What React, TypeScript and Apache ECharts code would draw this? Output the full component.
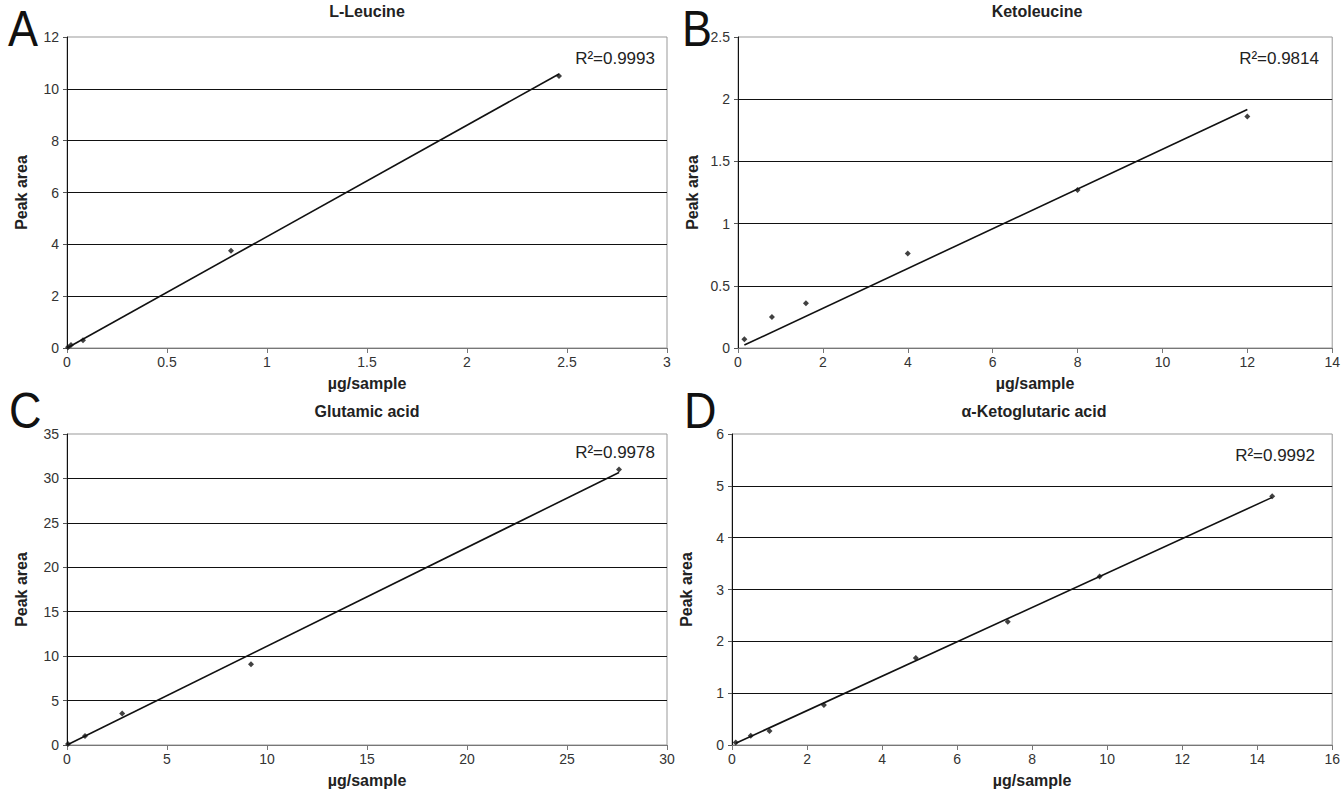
import React, { useEffect, useRef } from 'react';
import * as echarts from 'echarts';

// ---- data ----
const leucineX = [0.005, 0.02, 0.08, 0.82, 2.46];
const leucineY = [0.03, 0.12, 0.3, 3.75, 10.5];
const ketoleucineX = [0.15, 0.8, 1.6, 4, 8, 12];
const ketoleucineY = [0.07, 0.25, 0.36, 0.76, 1.27, 1.86];
const glutamicX = [0.05, 0.9, 2.76, 9.2, 27.6];
const glutamicY = [0.1, 1.0, 3.55, 9.1, 31.0];
const akgX = [0.1, 0.5, 1.0, 2.45, 4.9, 7.35, 9.8, 14.4];
const akgY = [0.05, 0.18, 0.27, 0.77, 1.68, 2.38, 3.25, 4.8];

const titles = ['L-Leucine', 'Ketoleucine', 'Glutamic acid', 'α-Ketoglutaric acid'];
const panelLetters = ['A', 'B', 'C', 'D'];
const r2Labels = ['R²=0.9993', 'R²=0.9814', 'R²=0.9978', 'R²=0.9992'];
const xMaxes = [3, 14, 30, 16];
const xIntervals = [0.5, 2, 5, 2];
const yMaxes = [12, 2.5, 35, 6];
const yIntervals = [2, 0.5, 5, 1];
const xAxisName = 'µg/sample';
const yAxisName = 'Peak area';

const panelsX = [leucineX, ketoleucineX, glutamicX, akgX];
const panelsY = [leucineY, ketoleucineY, glutamicY, akgY];

// ---- layout (pixels) ----
const grids = [
  { left: 67, top: 37, width: 600, height: 311 },
  { left: 738, top: 37, width: 598, height: 311 },
  { left: 67, top: 434, width: 600, height: 311 },
  { left: 732, top: 434, width: 604, height: 311 },
];
const titleTops = [3, 3, 403, 403];
const letterPos = [
  { x: 8, y: 29 },
  { x: 682, y: 29 },
  { x: 9, y: 411 },
  { x: 684, y: 411 },
];
const r2Pos = [
  { x: 655, y: 58 },
  { x: 1319, y: 58 },
  { x: 655, y: 452 },
  { x: 1315, y: 455 },
];

const FONT = "'Liberation Sans', Arial, sans-serif";

// zero-intercept least squares (trendline forced through origin)
function originSlope(xs: number[], ys: number[]) {
  let sxy = 0;
  let sxx = 0;
  for (let i = 0; i < xs.length; i++) {
    sxy += xs[i] * ys[i];
    sxx += xs[i] * xs[i];
  }
  return sxy / sxx;
}

export default function App() {
  const ref = useRef<HTMLDivElement>(null);

  useEffect(() => {
    if (!ref.current) return;
    const chart = echarts.init(ref.current, undefined, { renderer: 'svg' });

    const gridOpts = grids.map((g) => ({
      ...g,
      show: true,
      borderColor: '#999',
      borderWidth: 1,
      backgroundColor: '#fff',
      containLabel: false,
    }));

    const xAxes = grids.map((_, i) => ({
      type: 'value',
      gridIndex: i,
      min: 0,
      max: xMaxes[i],
      interval: xIntervals[i],
      name: xAxisName,
      nameLocation: 'middle',
      nameGap: 27,
      nameTextStyle: { fontFamily: FONT, fontWeight: 'bold', fontSize: 16, color: '#222' },
      axisLine: { show: true, onZero: false, lineStyle: { color: '#777', width: 1 } },
      axisTick: { show: true, length: 5, lineStyle: { color: '#777' } },
      axisLabel: { fontFamily: FONT, fontSize: 14, color: '#333', margin: 7, showMaxLabel: true, showMinLabel: true },
      splitLine: { show: false },
    }));

    const yAxes = grids.map((_, i) => ({
      type: 'value',
      gridIndex: i,
      min: 0,
      max: yMaxes[i],
      interval: yIntervals[i],
      name: yAxisName,
      nameLocation: 'middle',
      nameGap: 38,
      nameTextStyle: { fontFamily: FONT, fontWeight: 'bold', fontSize: 16, color: '#222' },
      axisLine: { show: true, onZero: false, lineStyle: { color: '#111', width: 1 } },
      axisTick: { show: true, length: 4, lineStyle: { color: '#555' } },
      axisLabel: { fontFamily: FONT, fontSize: 14, color: '#333', margin: 8 },
      splitLine: { show: true, showMinLine: false, showMaxLine: false, lineStyle: { color: '#111', width: 1 } },
    }));

    const series: any[] = [];
    panelsX.forEach((xs, i) => {
      const ys = panelsY[i];
      const slope = originSlope(xs, ys);
      const x0 = Math.min(...xs);
      const x1 = Math.max(...xs);
      series.push({
        type: 'line',
        xAxisIndex: i,
        yAxisIndex: i,
        data: [
          [x0, slope * x0],
          [x1, slope * x1],
        ],
        symbol: 'none',
        lineStyle: { color: '#111', width: 1.6 },
        silent: true,
        z: 3,
      });
      series.push({
        type: 'scatter',
        xAxisIndex: i,
        yAxisIndex: i,
        data: xs.map((x, j) => [x, ys[j]]),
        symbol: 'diamond',
        symbolSize: 6,
        itemStyle: { color: '#111' },
        z: 4,
      });
    });

    const title = titles.map((t, i) => ({
      text: t,
      left: grids[i].left + grids[i].width / 2,
      top: titleTops[i],
      padding: 0,
      textAlign: 'center',
      textStyle: { fontFamily: FONT, fontWeight: 'bold', fontSize: 16, color: '#222' },
    }));

    const graphic: any[] = [];
    panelLetters.forEach((l, i) => {
      graphic.push({
        type: 'text',
        x: letterPos[i].x,
        y: letterPos[i].y,
        scaleX: 0.9,
        style: {
          text: l,
          fontFamily: FONT,
          fontSize: 50,
          fill: '#111',
          align: 'left',
          verticalAlign: 'middle',
        },
        z: 10,
      });
    });
    r2Labels.forEach((r, i) => {
      graphic.push({
        type: 'text',
        x: r2Pos[i].x,
        y: r2Pos[i].y,
        style: {
          text: r,
          fontFamily: FONT,
          fontSize: 17,
          fill: '#222',
          align: 'right',
          verticalAlign: 'middle',
        },
        z: 10,
      });
    });

    chart.setOption({
      animation: false,
      backgroundColor: '#fff',
      title,
      grid: gridOpts,
      xAxis: xAxes,
      yAxis: yAxes,
      series,
      graphic,
    });

    return () => chart.dispose();
  }, []);

  return (
    <div
      ref={ref}
      style={{ position: 'absolute', left: 0, top: 0, width: 1343, height: 791, background: '#fff' }}
    />
  );
}
